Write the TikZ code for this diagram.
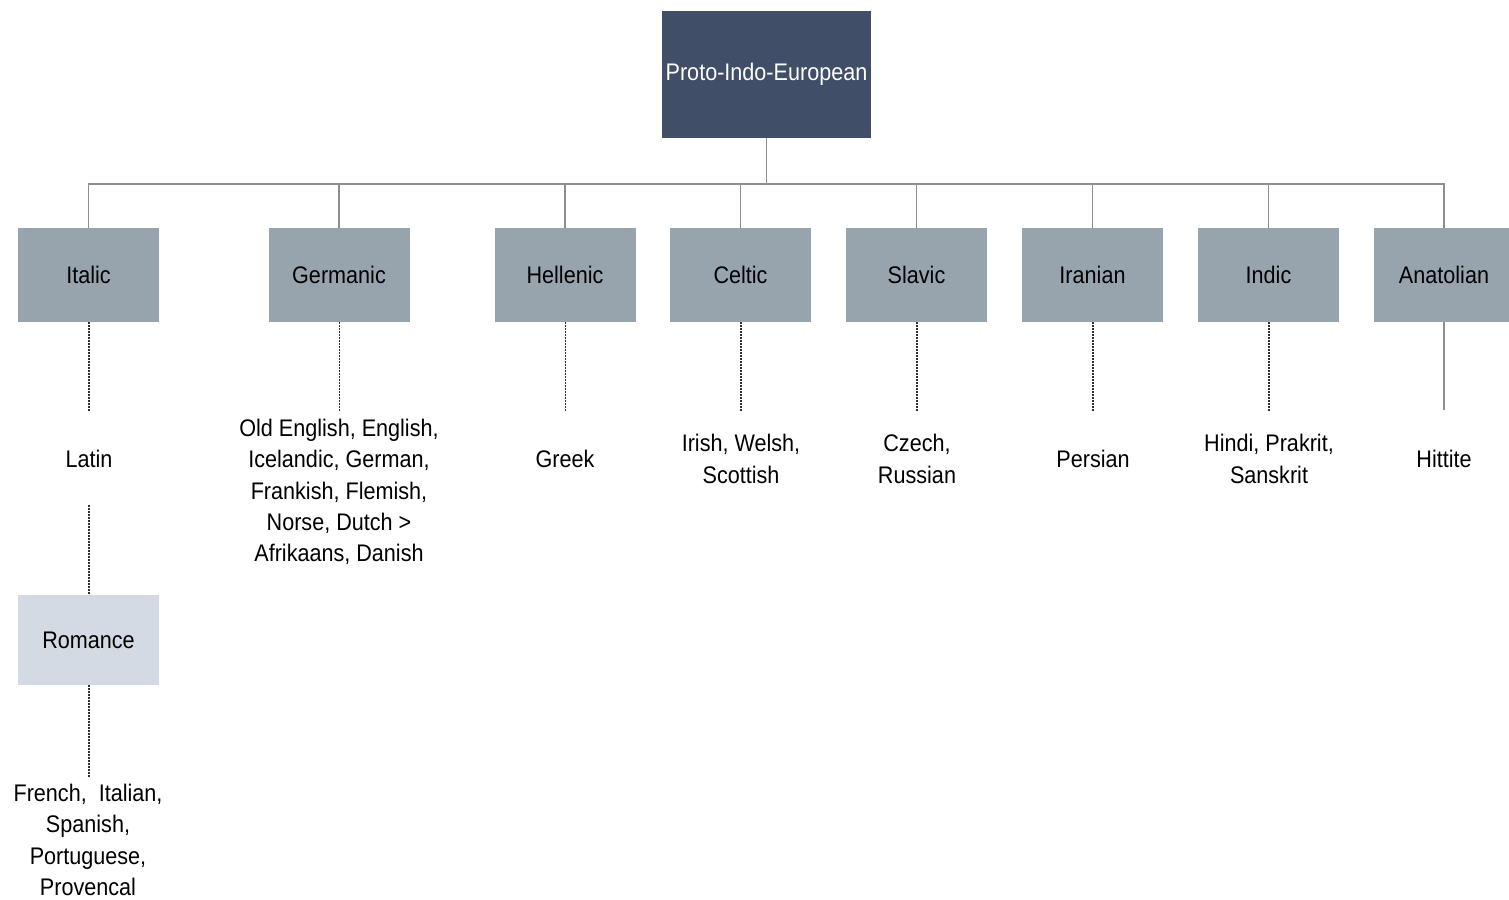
\documentclass[tikz,border=0pt]{standalone}
\usepackage{fontspec}
\setmainfont[FakeStretch=0.9]{Liberation Sans}
\definecolor{rootfill}{HTML}{404E68}
\definecolor{boxfill}{HTML}{97A4AE}
\definecolor{romfill}{HTML}{D3DAE3}
\definecolor{linegrey}{HTML}{8E8E8E}
\definecolor{dotdark}{HTML}{303030}
\begin{document}
\begin{tikzpicture}[x=0.5pt,y=-0.5pt,
  every node/.style={font=\fontsize{12}{15.6}\selectfont, inner sep=0pt, align=center},
  rootbox/.style={fill=rootfill, text=white, minimum width=104.5pt, minimum height=63.5pt},
  famBox/.style={fill=boxfill, text=black, minimum width=70.5pt, minimum height=47pt},
  subBox/.style={fill=romfill, text=black, minimum width=70.5pt, minimum height=45pt},
  lang/.style={text=black},
  solidline/.style={draw=linegrey, line width=0.75pt},
  dotline/.style={draw=dotdark, line width=0.9pt, dash pattern=on 0.8pt off 0.7pt}
]
\useasboundingbox (0,0) rectangle (1509,899);

\node[rootbox] (root) at (766.5,74.5) {\raisebox{-1pt}{Proto-Indo-European}};
\coordinate (bus) at (766.5,184);

\node[famBox] (italic)   at (88.5,275)   {Italic};
\node[famBox] (germanic) at (339,275)  {Germanic};
\node[famBox] (hellenic) at (565,275)  {Hellenic};
\node[famBox] (celtic)   at (740.5,275)  {Celtic};
\node[famBox] (slavic)   at (916.5,275)  {Slavic};
\node[famBox] (iranian)  at (1092.5,275) {Iranian};
\node[famBox] (indic)    at (1268.5,275) {Indic};
\node[famBox] (anatolian) at (1444,275) {Anatolian};

\draw[solidline] (root.south) -- (bus);
\foreach \n in {italic,germanic,hellenic,celtic,slavic,iranian,indic,anatolian}
  \draw[solidline] (\n.north) |- (bus);

% language labels
\node[lang] (latin) at (89,459) {Latin};
\node[lang] (germ) at (339,492) {Old English, English,\\Icelandic, German,\\Frankish, Flemish,\\Norse, Dutch >\\Afrikaans, Danish};
\node[lang] (greek) at (565,459) {Greek};
\node[lang] (celt) at (741,459) {Irish, Welsh,\\Scottish};
\node[lang] (slav) at (917,459) {Czech,\\Russian};
\node[lang] (pers) at (1093,459) {Persian};
\node[lang] (ind) at (1269,459) {Hindi, Prakrit,\\Sanskrit};
\node[lang] (hitt) at (1444,459) {Hittite};

\node[subBox] (romance) at (88.5,640) {Romance};
\node[lang] (rom) at (88,840) {French,\enspace Italian,\\Spanish,\\Portuguese,\\Provencal};

% line ends
\coordinate (eItalic) at (89,412);
\coordinate (eGerm) at (339.5,412);
\coordinate (eHell) at (565.5,412);
\coordinate (eCelt) at (741,412);
\coordinate (eSlav) at (917,412);
\coordinate (eIran) at (1093,412);
\coordinate (eInd) at (1269,412);
\coordinate (eAnat) at (1444,410);
\coordinate (sLatin) at (89,505);
\coordinate (eRom) at (89,777);

\draw[dotline] (italic.south -| eItalic) -- (eItalic);
\draw[dotline] (germanic.south -| eGerm) -- (eGerm);
\draw[dotline] (hellenic.south -| eHell) -- (eHell);
\draw[dotline] (celtic.south -| eCelt) -- (eCelt);
\draw[dotline] (slavic.south -| eSlav) -- (eSlav);
\draw[dotline] (iranian.south -| eIran) -- (eIran);
\draw[dotline] (indic.south -| eInd) -- (eInd);
\draw[solidline] (anatolian.south) -- (eAnat);
\draw[dotline] (sLatin) -- (romance.north -| sLatin);
\draw[dotline] (romance.south -| eRom) -- (eRom);
\end{tikzpicture}
\end{document}
